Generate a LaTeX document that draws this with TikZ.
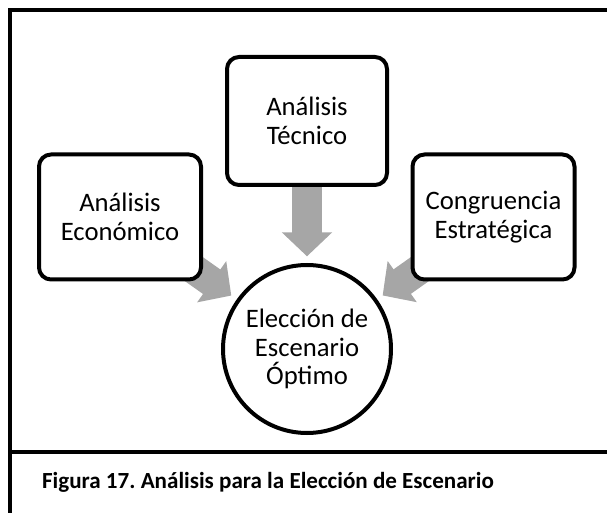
\documentclass[tikz,border=0pt]{standalone}
\usepackage{fontspec}
\setmainfont{Carlito}
\usetikzlibrary{arrows.meta,backgrounds}
\frenchspacing
\definecolor{arrowGray}{RGB}{166,166,166}
\newcommand{\boxFont}{\fontsize{20}{21.5}\selectfont}
\newcommand{\captionFont}{\bfseries\fontsize{17.3}{20}\selectfont}
\tikzstyle{diagram} = [x = 0.75pt, y = -0.75pt]
\tikzstyle{frameLine} = [color=black, line width=2.6pt]
\tikzstyle{boxStyle} = [draw, fill=white, line width=3pt, rounded corners=9pt, align=center, font=\boxFont]
\tikzstyle{topBox} = [boxStyle, minimum width=120pt, minimum height=96pt]
\tikzstyle{sideBox} = [boxStyle, minimum width=121.5pt, minimum height=93.75pt]
\tikzstyle{goalStyle} = [draw, fill=white, circle, line width=3pt, minimum size=126pt, align=center, font=\boxFont]
\tikzstyle{flowArrow} = [draw=arrowGray, line width=22.5pt, -{Triangle[width=36.75pt, length=18pt]}, shorten >=5pt]
\tikzstyle{captionText} = [font=\captionFont]

\begin{document}
\begin{tikzpicture}[diagram]
        \useasboundingbox (0,0) rectangle (607,513);
        \draw [frameLine] (607,10) -- (10,10) -- (10,513);
        \draw [frameLine] (10,452) -- (607,452);

        \node [topBox] (tecnico) at (307,121) {Análisis\\Técnico};
        \node [sideBox] (economico) at (120,217) {Análisis\\Económico};
        \node [sideBox] (congruencia) at (493.5,217) {Congruencia\\Estratégica};
        \node [goalStyle] (optimo) at (307,349) {Elección de\\Escenario\\Óptimo};

        \begin{scope}[on background layer]
          \draw [flowArrow] (tecnico.center) -- (optimo);
          \draw [flowArrow] (economico.center) -- (optimo);
          \draw [flowArrow] (congruencia.center) -- (optimo);
        \end{scope}

        \node [captionText] (caption) at (268,482) {Figura 17. Análisis para la Elección de Escenario};
      \end{tikzpicture}
\end{document}
